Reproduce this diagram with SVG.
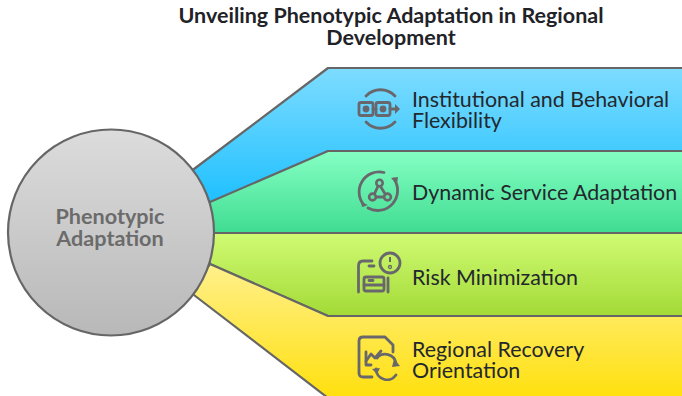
<svg xmlns="http://www.w3.org/2000/svg" width="682" height="396" viewBox="0 0 682 396">
<style>
text{font-family:Lato,"Liberation Sans",sans-serif}
.t{font-size:21.5px;font-weight:700;fill:#1f2328;text-anchor:middle}
.l{font-size:21.4px;fill:#23282d}
.c{font-size:21.6px;font-weight:700;fill:#6b6b6b;text-anchor:middle}
.b{stroke:#666;stroke-width:2.2;stroke-linejoin:round}
.i{fill:none;stroke:#68686c;stroke-width:2.8;stroke-linecap:round;stroke-linejoin:round}
.f{fill:#68686c}
</style>
<defs>
<linearGradient id="gb" x1="0" y1="0" x2="0" y2="1"><stop offset="0" stop-color="#7edcff"/><stop offset="1" stop-color="#18beff"/></linearGradient>
<linearGradient id="gg" x1="0" y1="0" x2="0" y2="1"><stop offset="0" stop-color="#85ffc4"/><stop offset="1" stop-color="#3fdc90"/></linearGradient>
<linearGradient id="gl" x1="0" y1="0" x2="0" y2="1"><stop offset="0" stop-color="#d0fb74"/><stop offset="1" stop-color="#a3da36"/></linearGradient>
<linearGradient id="gy" x1="0" y1="0" x2="0" y2="1"><stop offset="0" stop-color="#fff08c"/><stop offset="1" stop-color="#ffe00e"/></linearGradient>
<linearGradient id="gc" x1="0" y1="0" x2="0" y2="1"><stop offset="0" stop-color="#dcdcdc"/><stop offset="1" stop-color="#b8b8b8"/></linearGradient>
</defs>
<text class="t" x="391" y="23">Unveiling Phenotypic Adaptation in Regional</text>
<text class="t" x="391" y="45">Development</text>
<g id="connectors"></g>
<g id="n1"><path class="b" fill="url(#gb)" d="M684 68H328L190 172L214 212L328 151H684Z"/>
<g class="i"><path d="M366 96A20 20 0 0 1 395 96"/><path d="M366 122A20 20 0 0 0 395 122"/><rect x="359" y="102.500" width="14" height="13" rx="2"/><rect x="376" y="102.500" width="14" height="13" rx="2"/><path d="M373 109H376M390 109H396"/></g>
<circle class="f" cx="366" cy="109" r="3.400"/><circle class="f" cx="383" cy="109" r="3.400"/><path class="f" d="M395 104L400 109L395 114Z"/>
<text class="l" x="412" y="107">Institutional and Behavioral</text><text class="l" x="412" y="128">Flexibility</text></g>
<g id="n2"><path class="b" fill="url(#gg)" d="M684 151H328L210 202L205 233H684Z"/>
<g class="i"><path d="M364 205A20 20 0 0 1 384 172.500"/><path d="M394 179A20 20 0 0 1 368 208"/><path d="M379 184L373 197H387Z"/></g>
<circle cx="379.500" cy="183" r="3.200" fill="#6fe9a8" stroke="#68686c" stroke-width="2.600"/><circle cx="372.500" cy="197" r="3.400" fill="#5fe39d" stroke="#68686c" stroke-width="2.600"/><circle cx="387.500" cy="197" r="3.400" fill="#5fe39d" stroke="#68686c" stroke-width="2.600"/>
<path class="f" d="M391 178L398 177L397 184ZM361 202L368 205L362 207Z"/>
<text class="l" x="412" y="200">Dynamic Service Adaptation</text></g>
<g id="n3"><path class="b" fill="url(#gl)" d="M684 233H205L210 264L328 316H684Z"/>
<g class="i"><path d="M372 261H363Q358.500 261 358.500 266V292"/><path d="M369 266H374M388 278V292"/><rect x="364" y="277" width="20" height="14" rx="2"/><path d="M364 285H384M369 280.500H373"/><circle cx="390" cy="263" r="10"/></g>
<path class="f" d="M389 257H391V262H389Z"/><circle cx="390" cy="267" r="1.500" fill="none" stroke="#68686c" stroke-width="1.300"/>
<text class="l" x="412" y="285">Risk Minimization</text></g>
<g id="n4"><path class="b" fill="url(#gy)" d="M684 316H328L210 264L190 292L328 398H684Z"/>
<g class="i"><path d="M372 377H363Q359 377 359 373V341Q359 337 363 337H385L393 345V352"/><path d="M366 352V365H371"/><path d="M366 361L371 354L375 358L381 351"/><path d="M377 358A11 11 0 0 1 396 363"/><path d="M396 375A11 11 0 0 1 376 369"/></g>
<path class="f" d="M394 359L400 366L392 367ZM372 369L380 368L377 374Z"/>
<text class="l" x="412" y="357">Regional Recovery</text><text class="l" x="412" y="378">Orientation</text></g>
<g id="center"><circle class="b" cx="111" cy="232.500" r="103" fill="url(#gc)"/>
<text class="c" x="110" y="224">Phenotypic</text><text class="c" x="110" y="246">Adaptation</text></g>
</svg>
